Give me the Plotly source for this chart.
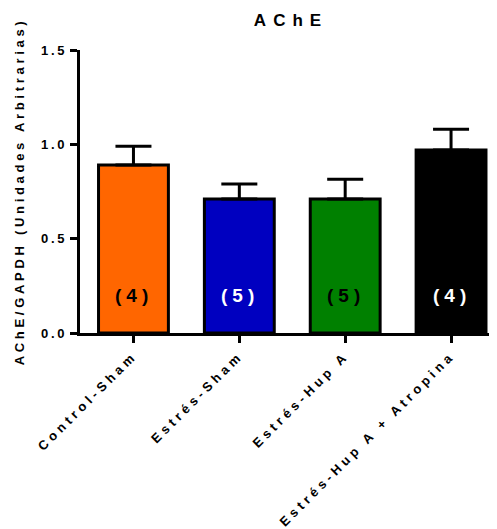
import plotly.graph_objects as go

categories = ["Control-Sham", "Estrés-Sham", "Estrés-Hup A", "Estrés-Hup A + Atropina"]
means = [0.89, 0.71, 0.71, 0.97]
sem = [0.10, 0.08, 0.105, 0.11]
n_labels = ["(4)", "(5)", "(5)", "(4)"]
bar_colors = ["#FF6600", "#0000C0", "#008000", "#000000"]
label_colors = ["#000000", "#FFFFFF", "#000000", "#FFFFFF"]
y_tickvals = [0.0, 0.5, 1.0, 1.5]
y_ticklabels = ["0.0", "0.5", "1.0", "1.5"]
title_text = "AChE"
y_title = "AChE/GAPDH (Unidades Arbitrarias)"
label_y = 0.2

FONT = "Liberation Sans, Arial, Helvetica, sans-serif"


def spaced(t, px):
    return f"<span style='letter-spacing:{px}px'>{t}</span>"


fig = go.Figure()
fig.add_trace(go.Bar(
    x=categories,
    y=means,
    width=0.66,
    marker=dict(color=bar_colors, line=dict(color="black", width=3)),
    error_y=dict(type="data", array=sem, arrayminus=[0] * len(sem), symmetric=False,
                 color="black", thickness=3, width=18),
    hoverinfo="skip",
))

for cat, lab, col in zip(categories, n_labels, label_colors):
    fig.add_annotation(x=cat, y=label_y, text=spaced(lab, 5), showarrow=False,
                       xshift=1, font=dict(family=FONT, size=19, color=col, weight="bold"))

fig.update_layout(
    width=497, height=529,
    margin=dict(l=72, r=8, t=42, b=204, autoexpand=False),
    plot_bgcolor="white", paper_bgcolor="white",
    showlegend=False,
    title=dict(text=spaced(title_text, 7), x=283 / 497, xref="container",
               xanchor="center", y=1 - 12 / 529, yref="container", yanchor="middle",
               font=dict(family=FONT, size=17, color="black", weight="bold")),
    font=dict(family=FONT, color="black"),
)

fig.update_xaxes(
    type="category", range=[-0.505, 3.434], automargin=False,
    showline=True, linewidth=3, linecolor="black",
    ticks="outside", ticklen=7, tickwidth=3, tickcolor="black",
    tickangle=-45, tickmode="array", tickvals=categories,
    ticktext=[spaced(c, 4.0) for c in categories],
    tickfont=dict(family=FONT, size=13, color="black", weight="bold"),
    showgrid=False, zeroline=False,
)
fig.update_yaxes(
    range=[0, 1.5], tickmode="array", tickvals=y_tickvals, automargin=False,
    ticktext=[spaced(t, 2.8) for t in y_ticklabels],
    showline=True, linewidth=3, linecolor="black",
    ticks="outside", ticklen=7, tickwidth=3, tickcolor="black",
    tickfont=dict(family=FONT, size=13, color="black", weight="bold"),
    showgrid=False, zeroline=False,
    title=dict(text=spaced(y_title, 3.7), standoff=14,
               font=dict(family=FONT, size=13, color="black", weight="bold")),
)

fig.write_html("out.html")
